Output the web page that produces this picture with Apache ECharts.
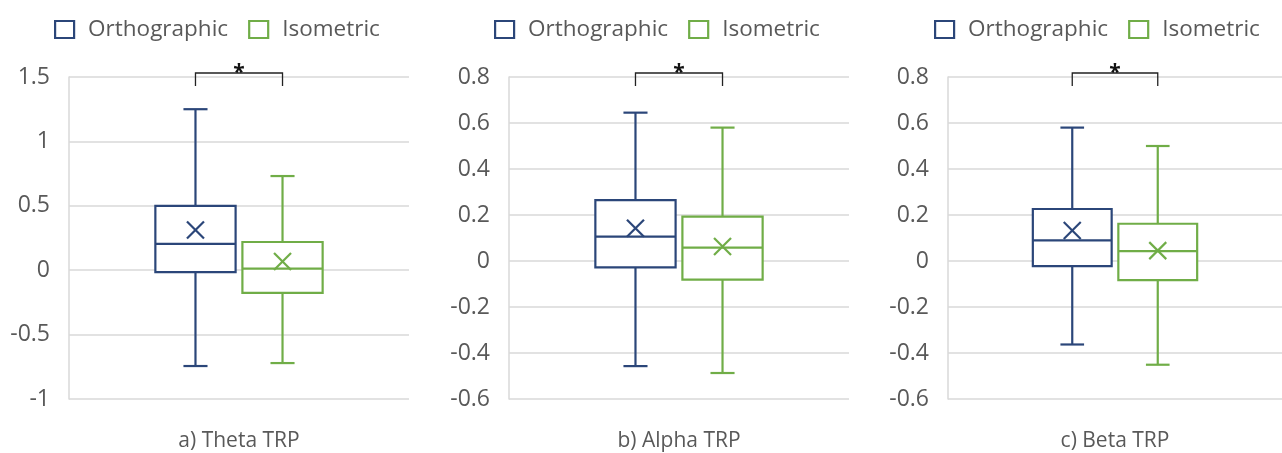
<!DOCTYPE html>
<html><head><meta charset="utf-8">
<script src="https://cdn.jsdelivr.net/npm/echarts@6/dist/echarts.min.js"></script>
<style>html,body{margin:0;padding:0;background:#fff}#c{width:1282px;height:453px}</style>
</head><body><div id="c"></div>
<script>
// ---- data ----
const panelTitles = ['a) Theta TRP', 'b) Alpha TRP', 'c) Beta TRP'];
const seriesNames = ['Orthographic', 'Isometric'];
// [min, Q1, median, Q3, max, mean]
const thetaOrtho = [-0.744, -0.015, 0.204, 0.500, 1.250, 0.312];
const thetaIso   = [-0.721, -0.176, 0.012, 0.219, 0.731, 0.067];
const alphaOrtho = [-0.457, -0.028, 0.106, 0.265, 0.645, 0.142];
const alphaIso   = [-0.487, -0.081, 0.058, 0.193, 0.580, 0.063];
const betaOrtho  = [-0.363, -0.022, 0.090, 0.226, 0.580, 0.133];
const betaIso    = [-0.451, -0.083, 0.043, 0.162, 0.500, 0.045];
const yMin  = [-1, -0.6, -0.6];
const yMax  = [1.5, 0.8, 0.8];
const yStep = [0.5, 0.2, 0.2];
const sigMarks = ['*', '*', '*'];

// ---- styling / layout ----
const colors = ['#2B4679', '#70AD47'];
const gridLefts = [69, 509, 948];
const legendLefts = [54, 494, 934];
const offsets = [-0.128, 0.128];
const halfBox = 0.118;
const textColor = '#595959';
const gridColor = '#d9d9d9';
const font = '"Open Sans", "Noto Sans", sans-serif';

const panels = [[thetaOrtho, thetaIso], [alphaOrtho, alphaIso], [betaOrtho, betaIso]];

function boxRender(offsetFrac, color) {
  return function (params, api) {
    const cat = api.value(0);
    const band = api.size([1, 0])[0];
    const cx = api.coord([cat, 0])[0] + offsetFrac * band;
    const hw = band * halfBox;
    const cap = hw * 0.3;
    const Y = i => api.coord([cat, api.value(i)])[1];
    const lo = Y(1), q1 = Y(2), med = Y(3), q3 = Y(4), hi = Y(5), mean = Y(6);
    const st = { stroke: color, lineWidth: 2.2, fill: null };
    const m = 8.5;
    const L = (x1, y1, x2, y2) => ({ type: 'line', shape: { x1, y1, x2, y2 }, style: st });
    return {
      type: 'group',
      children: [
        L(cx, hi, cx, q3),
        L(cx, q1, cx, lo),
        L(cx - cap, hi, cx + cap, hi),
        L(cx - cap, lo, cx + cap, lo),
        { type: 'rect', shape: { x: cx - hw, y: q3, width: 2 * hw, height: q1 - q3 },
          style: { stroke: color, lineWidth: 2.2, fill: '#fff' } },
        L(cx - hw, med, cx + hw, med),
        L(cx - m, mean - m, cx + m, mean + m),
        L(cx - m, mean + m, cx + m, mean - m)
      ]
    };
  };
}

function sigRender(mark) {
  return function (params, api) {
    const cat = api.value(0);
    const band = api.size([1, 0])[0];
    const c = api.coord([cat, 0])[0];
    const x1 = c + offsets[0] * band, x2 = c + offsets[1] * band;
    const top = params.coordSys.y - 4;
    const bot = params.coordSys.y + 9;
    const st = { stroke: '#222', lineWidth: 1.3, fill: null };
    return {
      type: 'group',
      children: [
        { type: 'polyline', shape: { points: [[x1, bot], [x1, top], [x2, top], [x2, bot]] }, style: st },
        { type: 'text', x: c, y: top + 11,
          style: { text: mark, fill: '#111', fontSize: 21, fontWeight: 'bold', fontFamily: font,
                   align: 'center', verticalAlign: 'bottom' } }
      ]
    };
  };
}

const option = {
  animation: false,
  backgroundColor: '#fff',
  grid: gridLefts.map(l => ({ left: l, width: 340, top: 77, height: 322 })),
  legend: legendLefts.map(l => ({
    left: l, top: 18, padding: 0, itemWidth: 19, itemHeight: 17, itemGap: 20, icon: 'rect',
    selectedMode: false,
    textStyle: { fontSize: 22.5, color: textColor, fontFamily: font, padding: [0, 0, 0, 9] },
    data: seriesNames.map((n, i) => ({ name: n, itemStyle: { color: '#fff', borderColor: colors[i], borderWidth: 2.2 } }))
  })),
  xAxis: panelTitles.map((t, i) => ({
    type: 'category', gridIndex: i, data: [t],
    axisTick: { show: false }, axisLine: { show: false },
    axisLabel: { fontSize: 21, color: textColor, fontFamily: font, margin: 32 }
  })),
  yAxis: panelTitles.map((t, i) => ({
    type: 'value', gridIndex: i, min: yMin[i], max: yMax[i], interval: yStep[i],
    axisLine: { show: true, lineStyle: { color: gridColor, width: 1.5 } },
    axisTick: { show: false },
    splitLine: { lineStyle: { color: gridColor, width: 1.5 } },
    axisLabel: { fontSize: 23, color: textColor, fontFamily: font, margin: 19,
                 formatter: v => String(Number(v.toFixed(1))) }
  })),
  series: []
};

panels.forEach((pair, p) => {
  pair.forEach((vals, s) => {
    option.series.push({
      type: 'custom', name: seriesNames[s], xAxisIndex: p, yAxisIndex: p,
      itemStyle: { color: colors[s] },
      renderItem: boxRender(offsets[s], colors[s]),
      encode: { x: 0, y: [1, 2, 3, 4, 5, 6] },
      data: [[panelTitles[p], ...vals]], clip: false
    });
  });
  option.series.push({
    type: 'custom', name: 'sig' + p, xAxisIndex: p, yAxisIndex: p,
    renderItem: sigRender(sigMarks[p]),
    encode: { x: 0, y: 1 },
    data: [[panelTitles[p], 0]], clip: false, silent: true
  });
});

const chart = echarts.init(document.getElementById('c'), null, { renderer: 'canvas' });
chart.setOption(option);
</script></body></html>
